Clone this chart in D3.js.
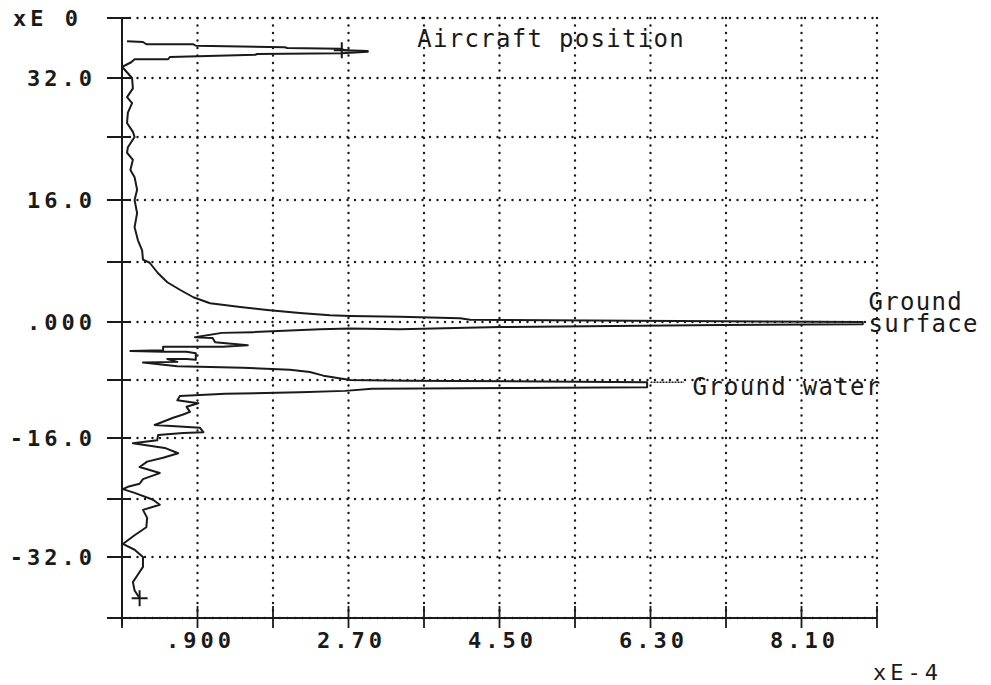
<!DOCTYPE html>
<html><head><meta charset="utf-8">
<script src="https://cdn.jsdelivr.net/npm/d3@7"></script>
<style>html,body{margin:0;padding:0;background:#fff;}svg{display:block;}</style>
</head><body>
<svg id="c" width="991" height="685"></svg>
<script>
// ---- data ----
const xTicks = [0, 0.9, 1.8, 2.7, 3.6, 4.5, 5.4, 6.3, 7.2, 8.1, 9.0];
const xTickLabels = [
  {v: 0.9, t: ".900"}, {v: 2.7, t: "2.70"}, {v: 4.5, t: "4.50"}, {v: 6.3, t: "6.30"}, {v: 8.1, t: "8.10"}
];
const yTicks = [-40, -32, -24, -16, -8, 0, 8, 16, 24, 32, 40];
const yTickLabels = [
  {v: 32, t: "32.0"}, {v: 16, t: "16.0"}, {v: 0, t: ".000"},
  {v: -16, t: "-16.0"}, {v: -32, t: "-32.0"}
];
const yUnitLabel = "xE 0";
const xUnitLabel = "xE-4";
// signal trace: amplitude (xE-4) vs height (xE0)
const amplitude = [0.06,0.25,0.29,0.85,0.88,1.94,1.97,2.60,2.66,2.93,2.93,2.62,1.61,1.59,0.57,0.55,0.15,0.11,0.04,0.00,
 0.12,0.13,0.06,0.12,0.07,0.06,0.13,0.15,0.07,0.06,0.13,0.10,0.15,0.18,0.15,0.18,0.15,0.19,0.24,0.25,
 0.33,0.43,0.54,0.69,0.85,1.05,1.41,1.73,2.12,2.48,2.72,3.31,4.03,4.15,7.13,8.83,
 8.83,7.13,4.51,3.31,2.72,2.36,1.56,1.19,0.87,1.08,1.11,1.50,1.20,0.49,0.49,0.10,0.49,0.77,0.88,0.88,0.77,0.54,0.66,0.25,0.66,
 1.44,2.00,2.24,2.40,2.72,3.40,6.26,6.26,4.71,2.98,2.66,2.12,1.23,0.69,0.66,0.91,0.77,0.81,0.72,0.61,0.39,0.93,0.97,0.73,0.43,
 0.42,0.13,0.51,0.67,0.49,0.30,0.21,0.45,0.25,0.21,0.07,0.01,0.15,0.37,0.45,0.25,0.30,0.29,0.15,0.01,0.15,0.25,0.25,0.19,0.13,0.15,0.21];
const height = [36.9,36.8,36.5,36.5,36.3,36.1,36.0,35.9,35.7,35.6,35.5,35.3,35.2,35.1,34.8,34.5,34.5,34.1,33.7,33.5,
 32.0,30.6,29.4,28.6,27.3,25.9,24.7,24.0,22.7,22.0,21.1,19.8,18.9,17.3,16.0,14.3,12.5,10.8,9.5,8.3,
 7.9,6.5,5.3,4.3,3.3,2.5,2.0,1.6,1.2,0.9,0.8,0.7,0.5,0.3,0.1,0.0,
 -0.3,-0.4,-0.7,-1.0,-0.9,-1.0,-1.4,-1.5,-2.1,-2.2,-2.8,-3.2,-3.4,-3.4,-3.9,-4.0,-4.1,-4.1,-4.3,-5.2,-5.1,-5.1,-5.5,-5.6,-6.1,
 -6.3,-6.6,-6.9,-7.4,-8.0,-8.1,-8.3,-9.0,-9.1,-9.2,-9.5,-9.7,-9.9,-10.2,-10.8,-11.2,-11.7,-12.4,-12.8,-13.2,-14.2,-14.6,-15.2,-15.3,-15.6,
 -16.3,-16.7,-17.3,-18.0,-18.6,-19.1,-19.8,-20.6,-21.4,-22.0,-22.4,-22.7,-23.2,-24.1,-24.8,-25.5,-26.6,-27.9,-29.0,-30.2,-31.0,-32.0,-33.3,-34.3,-35.3,-36.4,-37.4];
const markers = [{x: 2.62, y: 35.7}, {x: 0.21, y: -37.4}];
const annotations = [
  {x: 3.52, y: 36.2, lines: ["Aircraft position"]},
  {x: 8.9, y: 1.6, lines: ["Ground", "surface"]},
  {x: 6.8, y: -10.0, lines: ["Ground water"]}
];

// ---- scales ----
const svg = d3.select("#c");
const x = d3.scaleLinear().domain([0, 9]).range([122, 877]);
const y = d3.scaleLinear()
  .domain([-40, -32, -24, -16, -8, 0, 8, 16, 24, 32, 40])
  .range([618, 557, 499, 438, 380, 322, 262, 200, 137, 78, 18]);
const ink = "#1a1a1a";

// grid
const grid = svg.append("g").attr("stroke", ink).attr("stroke-width", 2.4)
  .attr("stroke-linecap", "round").attr("stroke-dasharray", "0,7.5");
grid.selectAll("line.h").data(yTicks).join("line")
  .attr("x1", x(0) + 8).attr("x2", x(9)).attr("y1", d => y(d)).attr("y2", d => y(d));
grid.selectAll("line.v").data(xTicks.slice(1)).join("line")
  .attr("x1", d => x(d)).attr("x2", d => x(d)).attr("y1", y(40)).attr("y2", y(-40) - 4);

// axes
const yAxis = d3.axisLeft(y).tickValues(yTicks).tickSize(0).tickFormat("");
const xAxis = d3.axisBottom(x).tickValues(xTicks).tickSize(0).tickFormat("");
const ga = svg.append("g").attr("transform", `translate(${x(0)},0)`).call(yAxis);
ga.select(".domain").attr("stroke", ink).attr("stroke-width", 2).attr("d", `M0,${y(40)}V${y(-40) + 8}`);
const gb = svg.append("g").attr("transform", `translate(0,${y(-40)})`).call(xAxis);
gb.select(".domain").attr("stroke", ink).attr("stroke-width", 2).attr("d", `M${x(0) - 12},0H${x(9)}`);
// crossing tick marks
svg.append("g").selectAll("line").data(yTicks).join("line")
  .attr("x1", x(0) - 15).attr("x2", x(0) + 8).attr("y1", d => y(d)).attr("y2", d => y(d))
  .attr("stroke", ink).attr("stroke-width", 2);
svg.append("g").selectAll("line").data(xTicks).join("line")
  .attr("x1", d => x(d)).attr("x2", d => x(d)).attr("y1", y(-40) - 12).attr("y2", y(-40) + 10)
  .attr("stroke", ink).attr("stroke-width", 1.8);

// tick labels
const lblFont = "'DejaVu Sans Mono', monospace";
svg.append("g").selectAll("text").data(yTickLabels).join("text")
  .attr("x", 96).attr("y", d => y(d.v) + 8)
  .attr("text-anchor", "end").attr("font-family", lblFont).attr("font-weight", "bold")
  .attr("font-size", 22).attr("letter-spacing", 4).attr("fill", ink)
  .text(d => d.t);
svg.append("text").attr("x", 13).attr("y", 26)
  .attr("font-family", lblFont).attr("font-weight", "bold")
  .attr("font-size", 22).attr("letter-spacing", 4).attr("fill", ink).text(yUnitLabel);
svg.append("g").selectAll("text").data(xTickLabels).join("text")
  .attr("x", d => x(d.v) + 3).attr("y", 648)
  .attr("text-anchor", "middle").attr("font-family", lblFont).attr("font-weight", "bold")
  .attr("font-size", 22).attr("letter-spacing", 4).attr("fill", ink)
  .text(d => d.t);
svg.append("text").attr("x", 873).attr("y", 680).attr("font-family", lblFont)
  .attr("font-size", 22).attr("letter-spacing", 4).attr("fill", ink).text(xUnitLabel);

// trace
const pts = amplitude.map((a, i) => [a, height[i]]);
svg.append("path").datum(pts)
  .attr("d", d3.line().x(d => x(d[0])).y(d => y(d[1])))
  .attr("fill", "none").attr("stroke", ink).attr("stroke-width", 2).attr("stroke-linejoin", "round");

// markers
svg.append("g").selectAll("path").data(markers).join("path")
  .attr("d", d => `M${x(d.x) - 8},${y(d.y)}H${x(d.x) + 8}M${x(d.x)},${y(d.y) - 8}V${y(d.y) + 8}`)
  .attr("stroke", ink).attr("stroke-width", 2);

// leader for ground water
svg.append("line").attr("x1", x(6.3)).attr("x2", x(6.7)).attr("y1", y(-8.3)).attr("y2", y(-8.3))
  .attr("stroke", ink).attr("stroke-width", 1.5).attr("stroke-dasharray", "2,1");

// annotations (multi-line as one text element with tspans)
const ann = svg.append("g").attr("font-family", lblFont).attr("font-size", 24)
  .attr("letter-spacing", 1.3).attr("fill", ink);
annotations.forEach(a => {
  const t = ann.append("text").attr("x", x(a.x)).attr("y", y(a.y));
  a.lines.forEach((l, i) => {
    t.append("tspan").attr("x", x(a.x)).attr("dy", i === 0 ? 0 : 22).text(l);
  });
});
</script>
</body></html>
